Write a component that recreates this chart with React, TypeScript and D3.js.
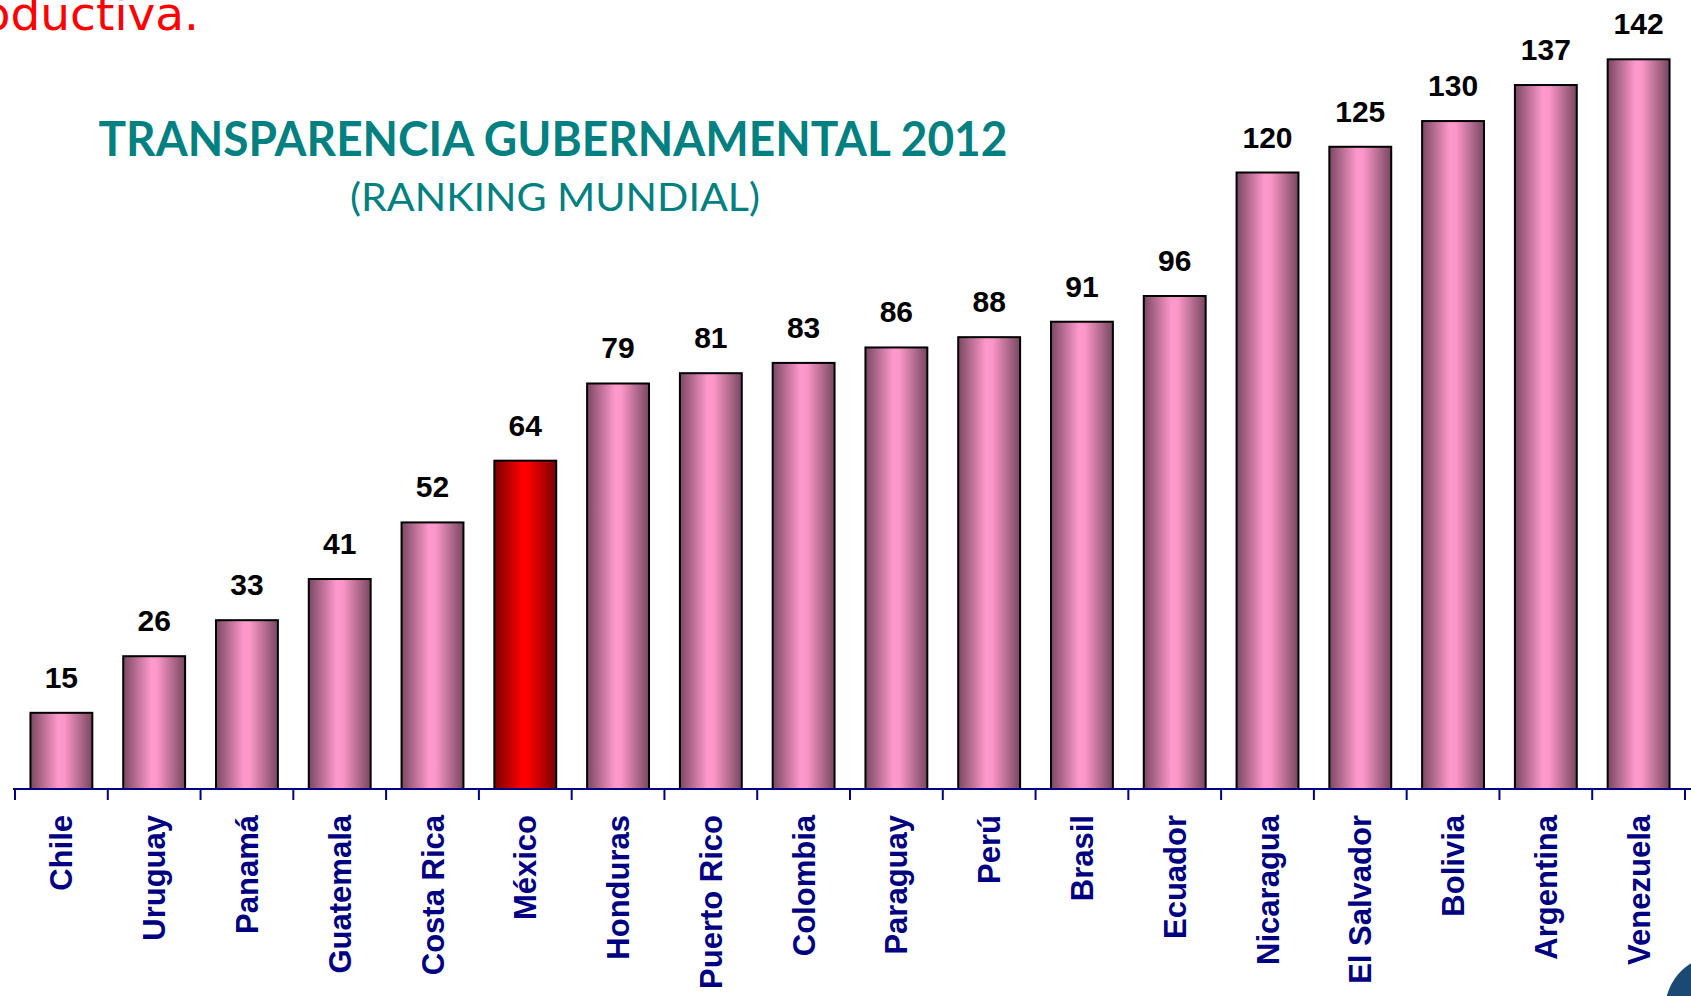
import React from "react";
import * as d3 from "d3";

const countries = [
  "Chile", "Uruguay", "Panamá", "Guatemala", "Costa Rica", "México",
  "Honduras", "Puerto Rico", "Colombia", "Paraguay", "Perú", "Brasil",
  "Ecuador", "Nicaragua", "El Salvador", "Bolivia", "Argentina", "Venezuela",
];
const ranks = [15, 26, 33, 41, 52, 64, 79, 81, 83, 86, 88, 91, 96, 120, 125, 130, 137, 142];
const highlight = "México";

const W = 1691;
const H = 996;

export default function App() {
  const x = d3
    .scaleBand<string>()
    .domain(countries)
    .range([15, 1685])
    .paddingInner(0.333)
    .paddingOuter(0.1665);
  const y = d3.scaleLinear().domain([0, 142]).range([790, 59.3]);
  const step = x.step();
  const base = 789;
  const ticks = d3.range(countries.length + 1).map((i) => 15 + i * step);

  return (
    <svg
      width={W}
      height={H}
      viewBox={`0 0 ${W} ${H}`}
      style={{ position: "absolute", left: 0, top: 0, background: "#fff" }}
    >
      <defs>
        <linearGradient id="pinkGrad" x1="0" y1="0" x2="1" y2="0">
          <stop offset="0" stopColor="#7a4862" />
          <stop offset="0.45" stopColor="#ff99cc" />
          <stop offset="0.55" stopColor="#fb97c8" />
          <stop offset="1" stopColor="#784760" />
        </linearGradient>
        <linearGradient id="redGrad" x1="0" y1="0" x2="1" y2="0">
          <stop offset="0" stopColor="#7a0000" />
          <stop offset="0.45" stopColor="#ff0000" />
          <stop offset="0.55" stopColor="#fb0000" />
          <stop offset="1" stopColor="#780000" />
        </linearGradient>
      </defs>

      <text
        x={199}
        y={30}
        textAnchor="end"
        fill="#ff0000"
        fontFamily="DejaVu Sans, Verdana, sans-serif"
        fontSize={47}
      >
        productiva.
      </text>

      <text
        x={553}
        y={156}
        textAnchor="middle"
        fill="#008080"
        fontFamily="Lato, 'Open Sans', sans-serif"
        fontWeight="bold"
        fontSize={48}
        textLength={909}
        lengthAdjust="spacingAndGlyphs"
      >
        TRANSPARENCIA GUBERNAMENTAL 2012
      </text>
      <text
        x={555}
        y={211}
        textAnchor="middle"
        fill="#008080"
        fontFamily="Lato, 'Open Sans', sans-serif"
        fontSize={39}
        textLength={410}
        lengthAdjust="spacingAndGlyphs"
      >
        (RANKING MUNDIAL)
      </text>

      {countries.map((c, i) => {
        const bx = x(c) as number;
        const bw = x.bandwidth();
        const top = y(ranks[i]);
        return (
          <g key={c}>
            <rect
              x={bx}
              y={top}
              width={bw}
              height={base - top}
              fill={c === highlight ? "url(#redGrad)" : "url(#pinkGrad)"}
              stroke="#000"
              strokeWidth={2}
            />
            <text
              x={bx + bw / 2}
              y={top - 25}
              textAnchor="middle"
              fontFamily="'Liberation Sans', Arial, sans-serif"
              fontWeight="bold"
              fontSize={30}
              fill="#000"
            >
              {ranks[i]}
            </text>
            <text
              transform={`translate(${bx + bw / 2 + 11},815) rotate(-90)`}
              textAnchor="end"
              fontFamily="'Liberation Sans', Arial, sans-serif"
              fontWeight="bold"
              fontSize={31}
              fill="#000080"
            >
              {c}
            </text>
          </g>
        );
      })}

      <line x1={13} x2={W} y1={base} y2={base} stroke="#000080" strokeWidth={2} />
      {ticks.map((t, i) => (
        <line key={i} x1={t} x2={t} y1={base} y2={800} stroke="#000080" strokeWidth={2} />
      ))}

      <circle cx={1720} cy={1010} r={55} fill="#1a4a73" />
    </svg>
  );
}
